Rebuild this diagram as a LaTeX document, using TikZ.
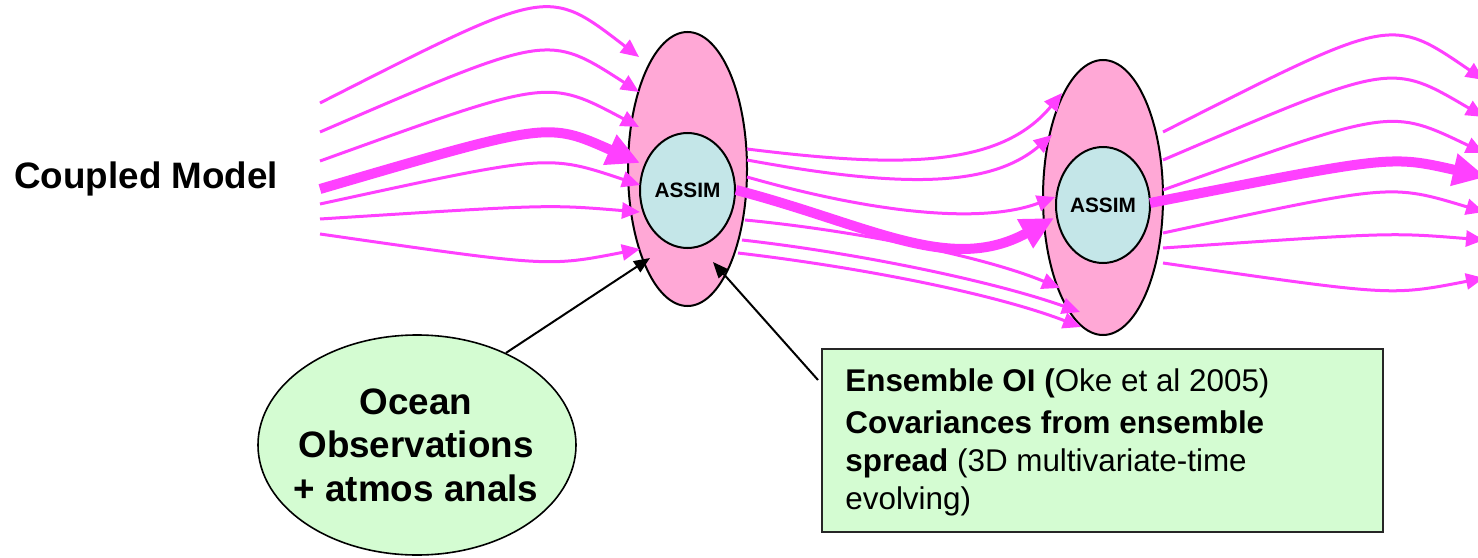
\documentclass[tikz,border=0pt]{standalone}
\usepackage{fontspec}
\setmainfont{Liberation Sans}
\usetikzlibrary{arrows.meta,shapes.geometric}
\definecolor{flow}{RGB}{255,64,255}
\definecolor{outerpink}{RGB}{255,168,214}
\definecolor{innerblue}{RGB}{196,230,232}
\definecolor{obsgreen}{RGB}{212,252,210}
\begin{document}
\begin{tikzpicture}[x=0.5pt,y=-0.5pt,
  thinflow/.style={draw=flow, line width=1.5pt, -{Triangle[length=9pt,width=8pt]}},
  thickflow/.style={draw=flow, line width=5pt, -{Triangle[length=16.5pt,width=15.5pt]}},
  pointer/.style={draw=black, line width=1pt, -{Triangle[length=8pt,width=6.5pt]}},
  outerell/.style={ellipse, draw=black, line width=1pt, fill=outerpink, inner sep=0pt},
  innerell/.style={ellipse, draw=black, line width=1pt, fill=innerblue, inner sep=0pt,
     font=\fontsize{10.4}{12}\selectfont\bfseries},
  bigtext/.style={inner sep=0pt, font=\fontsize{18.4}{22}\selectfont\bfseries},
  boxtext/.style={anchor=base west, inner sep=0pt, font=\fontsize{15.7}{19}\selectfont},
]
\useasboundingbox (0,0) rectangle (1478,557);
\clip (0,0) rectangle (1478,557);

% assimilation ellipses
\node[outerell, minimum width=59.5pt, minimum height=137pt] (A1) at (687.5,169) {};
\node[innerell, minimum width=47.5pt, minimum height=57.5pt] (I1) at (687.5,190.5) {ASSIM};
\node[outerell, minimum width=60pt, minimum height=137.5pt] (A2) at (1103,197.5) {};
\node[innerell, minimum width=47pt, minimum height=58pt] (I2) at (1103,205) {ASSIM};

% label
\node[bigtext, anchor=base west] (cm) at (14,188) {Coupled Model};

% observations ellipse
\node[ellipse, draw=black, line width=0.8pt, fill=obsgreen, minimum width=159pt,
      minimum height=110pt, inner sep=0pt] (obs) at (417,445) {};
\node[bigtext, anchor=base] (o1) at (416,414) {Ocean};
\node[bigtext, anchor=base] (o2) at (416,457) {Observations};
\node[bigtext, anchor=base] (o3) at (416,501) {+ atmos anals};

% method box
\node[draw=black!85, line width=1pt, fill=obsgreen, minimum width=280.5pt,
      minimum height=91.5pt, inner sep=0pt] (box) at (1102.5,440.5) {};
\node[boxtext] (t1) at (845,391) {\textbf{Ensemble OI (}Oke et al 2005)};
\node[boxtext] (t2) at (845,433) {\textbf{Covariances from ensemble}};
\node[boxtext] (t3) at (845,471) {\textbf{spread} (3D multivariate-time};
\node[boxtext] (t4) at (845,509) {evolving)};

% incoming ensemble (left)
\draw[thinflow] (320,103) .. controls (550,-13.75) and (547,-13.75) .. (639,57);
\draw[thinflow] (320,132) .. controls (550,32.9) and (547,32.9) .. (639,92);
\draw[thinflow] (320,161) .. controls (550,78.2) and (547,78.2) .. (639,127);
\draw[thickflow] (320,189) .. controls (550,121.8) and (547,121.8) .. (640,163);
\draw[thinflow] (320,204) .. controls (550,154.1) and (547,154.1) .. (640,185);
\draw[thinflow] (320,219) .. controls (550,204.4) and (547,204.4) .. (640,212);
\draw[thinflow] (320,234) .. controls (550,267) and (547,267) .. (640,249);

% middle ensemble
\draw[thinflow] (747,149) .. controls (900,168) and (1000,168) .. (1062,93);
\draw[thinflow] (747,160) .. controls (900,188) and (990,188) .. (1052,135);
\draw[thinflow] (747,177) .. controls (870,212) and (980,225) .. (1055,197);
\draw[thickflow] (736,190) .. controls (870,225) and (950,275) .. (1054,218);
\draw[thinflow] (745,220) .. controls (850,230) and (980,255) .. (1060,288);
\draw[thinflow] (742,240) .. controls (850,252) and (990,280) .. (1080,312);
\draw[thinflow] (738,253) .. controls (850,266) and (990,292) .. (1081,327);

% outgoing ensemble (right)
\draw[thinflow] (1163,132) .. controls (1393,15.7) and (1390,15.7) .. (1484,80);
\draw[thinflow] (1163,160) .. controls (1393,61.8) and (1390,61.8) .. (1484,117);
\draw[thinflow] (1163,190) .. controls (1393,108) and (1390,108) .. (1484,153);
\draw[thickflow] (1150,203) .. controls (1393,155.3) and (1390,155.3) .. (1486,177);
\draw[thinflow] (1163,233) .. controls (1393,183.7) and (1390,183.7) .. (1484,212);
\draw[thinflow] (1163,248) .. controls (1393,232.4) and (1390,232.4) .. (1484,240);
\draw[thinflow] (1163,263) .. controls (1393,296.1) and (1390,296.1) .. (1484,278);

% pointers
\coordinate (tipA) at (650,258);
\coordinate (tipB) at (713,262);
\coordinate (boxend) at (818,380);
\draw[pointer] (obs.46) -- (tipA);
\draw[pointer] (boxend) -- (tipB);
\end{tikzpicture}
\end{document}
